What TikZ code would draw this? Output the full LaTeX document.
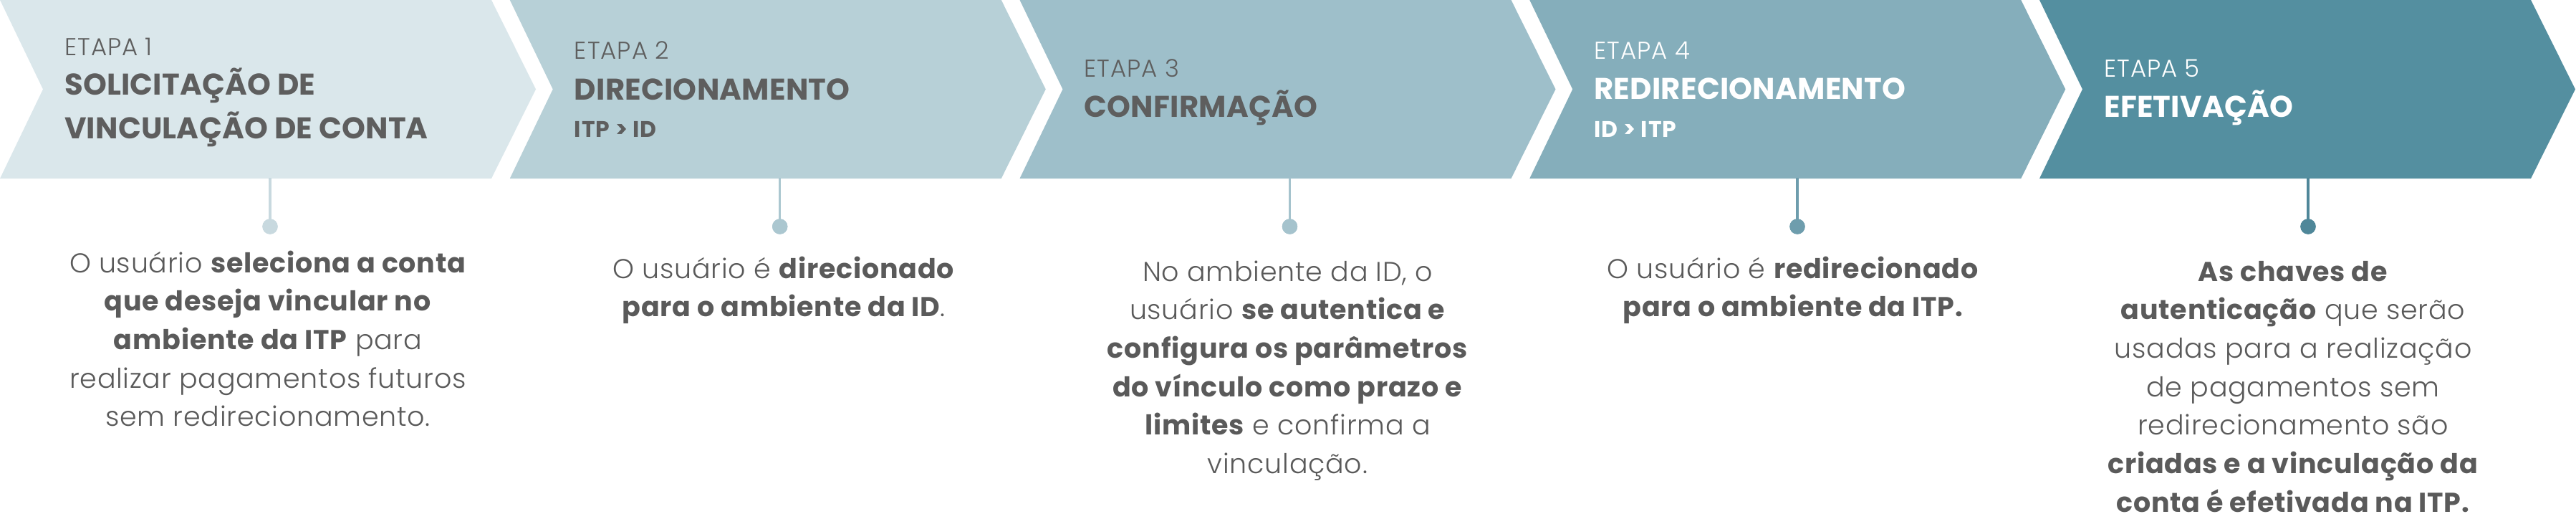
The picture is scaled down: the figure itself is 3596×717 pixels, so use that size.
\documentclass[tikz,border=0pt]{standalone}
\usepackage{fontspec}
\setmainfont{Poppins}
\newfontfamily\lightfont{Poppins}[UprightFont=* Light, BoldFont=* Bold, LetterSpace=2]
\newfontfamily\etapafont{Poppins Light}[LetterSpace=3]
\newfontfamily\titlefont{Poppins Bold}[LetterSpace=0.5]
\newfontfamily\subfont{Poppins Bold}[LetterSpace=3]
\definecolor{chA}{HTML}{DAE7EB}
\definecolor{chB}{HTML}{B7D0D7}
\definecolor{chC}{HTML}{9EBFCA}
\definecolor{chD}{HTML}{85AEBB}
\definecolor{chE}{HTML}{548FA0}
\definecolor{dotA}{HTML}{C8D9DF}
\definecolor{dotB}{HTML}{ABC7D0}
\definecolor{dotC}{HTML}{A5C3CD}
\definecolor{dotD}{HTML}{6E9DAD}
\definecolor{dotE}{HTML}{4F8799}
\definecolor{darktxt}{HTML}{5E5E5E}
\definecolor{bodygray}{HTML}{5A5A5A}
\begin{document}
\begin{tikzpicture}[x=1pt,y=-1pt,
  etapa/.style={anchor=base west, inner sep=0pt, font=\etapafont\fontsize{34}{34}\selectfont},
  ttl/.style={anchor=base west, inner sep=0pt, font=\titlefont\fontsize{41.8}{41.8}\selectfont},
  subttl/.style={anchor=base west, inner sep=0pt, font=\subfont\fontsize{31.5}{31.5}\selectfont},
  body/.style={anchor=base, inner sep=0pt, text=bodygray, font=\lightfont\fontsize{38}{38}\selectfont},
  dot/.style={circle, fill=#1, draw=none, minimum size=21.4pt, inner sep=0pt},
  stem/.style={draw=#1, line width=3.3pt}]
\useasboundingbox (0,0) rectangle (3596,717);
% chevrons
\foreach \k/\col in {0/chA,1/chB,2/chC,3/chD,4/chE}{
  \fill[\col, xshift=\k*711.75pt] (0,0) -- (686,0) -- (748,124.5) -- (686,249) -- (0,249) -- (60,124.5) -- cycle;
}
% headers
\node[etapa, text=darktxt] (e1) at (90,77.7) {ETAPA 1};
\node[ttl, text=darktxt] (t1a) at (90,132.7) {SOLICITAÇÃO DE};
\node[ttl, text=darktxt] (t1b) at (90,193) {VINCULAÇÃO DE CONTA};

\node[etapa, text=darktxt] (e2) at (801.75,83) {ETAPA 2};
\node[ttl, text=darktxt] (t2) at (801.75,139) {DIRECIONAMENTO};
\node[subttl, text=darktxt] (s2) at (801.75,191) {ITP > ID};

\node[etapa, text=darktxt] (e3) at (1513.5,107) {ETAPA 3};
\node[ttl, text=darktxt] (t3) at (1513.5,163) {CONFIRMAÇÃO};

\node[etapa, text=white] (e4) at (2225.25,83) {ETAPA 4};
\node[ttl, text=white] (t4) at (2225.25,138) {REDIRECIONAMENTO};
\node[subttl, text=white] (s4) at (2225.25,191) {ID > ITP};

\node[etapa, text=white] (e5) at (2937,107) {ETAPA 5};
\node[ttl, text=white] (t5) at (2937,163) {EFETIVAÇÃO};

% stems and dots
\foreach \i/\x/\col in {1/377/dotA,2/1088.7/dotB,3/1800.5/dotC,4/2509/dotD,5/3222/dotE}{
  \coordinate (top\i) at (\x,248);
  \node[dot=\col] (d\i) at (\x,316) {};
  \draw[stem=\col] (top\i) -- (d\i.center);
  \node[dot=\col] at (d\i) {};
}
% body column 1
\node[body] (b1a) at (374,380) {O usuário \textbf{seleciona a conta}};
\node[body] (b1b) at (374,433.7) {\textbf{que deseja vincular no}};
\node[body] (b1c) at (374,487.4) {\textbf{ambiente da ITP} para};
\node[body] (b1d) at (374,541.1) {realizar pagamentos futuros};
\node[body] (b1e) at (374,594.8) {sem redirecionamento.};
% body column 2
\node[body] (b2a) at (1094,388) {O usuário é \textbf{direcionado}};
\node[body] (b2b) at (1094,441.7) {\textbf{para o ambiente da ID}.};
% body column 3
\node[body] (b3a) at (1797.5,392) {No ambiente da ID, o};
\node[body] (b3b) at (1797.5,445.7) {usuário \textbf{se autentica e}};
\node[body] (b3c) at (1797.5,499.4) {\textbf{configura os parâmetros}};
\node[body] (b3d) at (1797.5,553.1) {\textbf{do vínculo como prazo e}};
\node[body] (b3e) at (1797.5,606.8) {\textbf{limites} e confirma a};
\node[body] (b3f) at (1797.5,660.5) {vinculação.};
% body column 4
\node[body] (b4a) at (2503,388) {O usuário é \textbf{redirecionado}};
\node[body] (b4b) at (2503,441.7) {\textbf{para o ambiente da ITP.}};
% body column 5
\node[body] (b5a) at (3201,392) {\textbf{As chaves de}};
\node[body] (b5b) at (3201,445.7) {\textbf{autenticação} que serão};
\node[body] (b5c) at (3201,499.4) {usadas para a realização};
\node[body] (b5d) at (3201,553.1) {de pagamentos sem};
\node[body] (b5e) at (3201,606.8) {redirecionamento são};
\node[body] (b5f) at (3201,660.5) {\textbf{criadas e a vinculação da}};
\node[body] (b5g) at (3201,714.2) {\textbf{conta é efetivada na ITP.}};
\end{tikzpicture}
\end{document}
